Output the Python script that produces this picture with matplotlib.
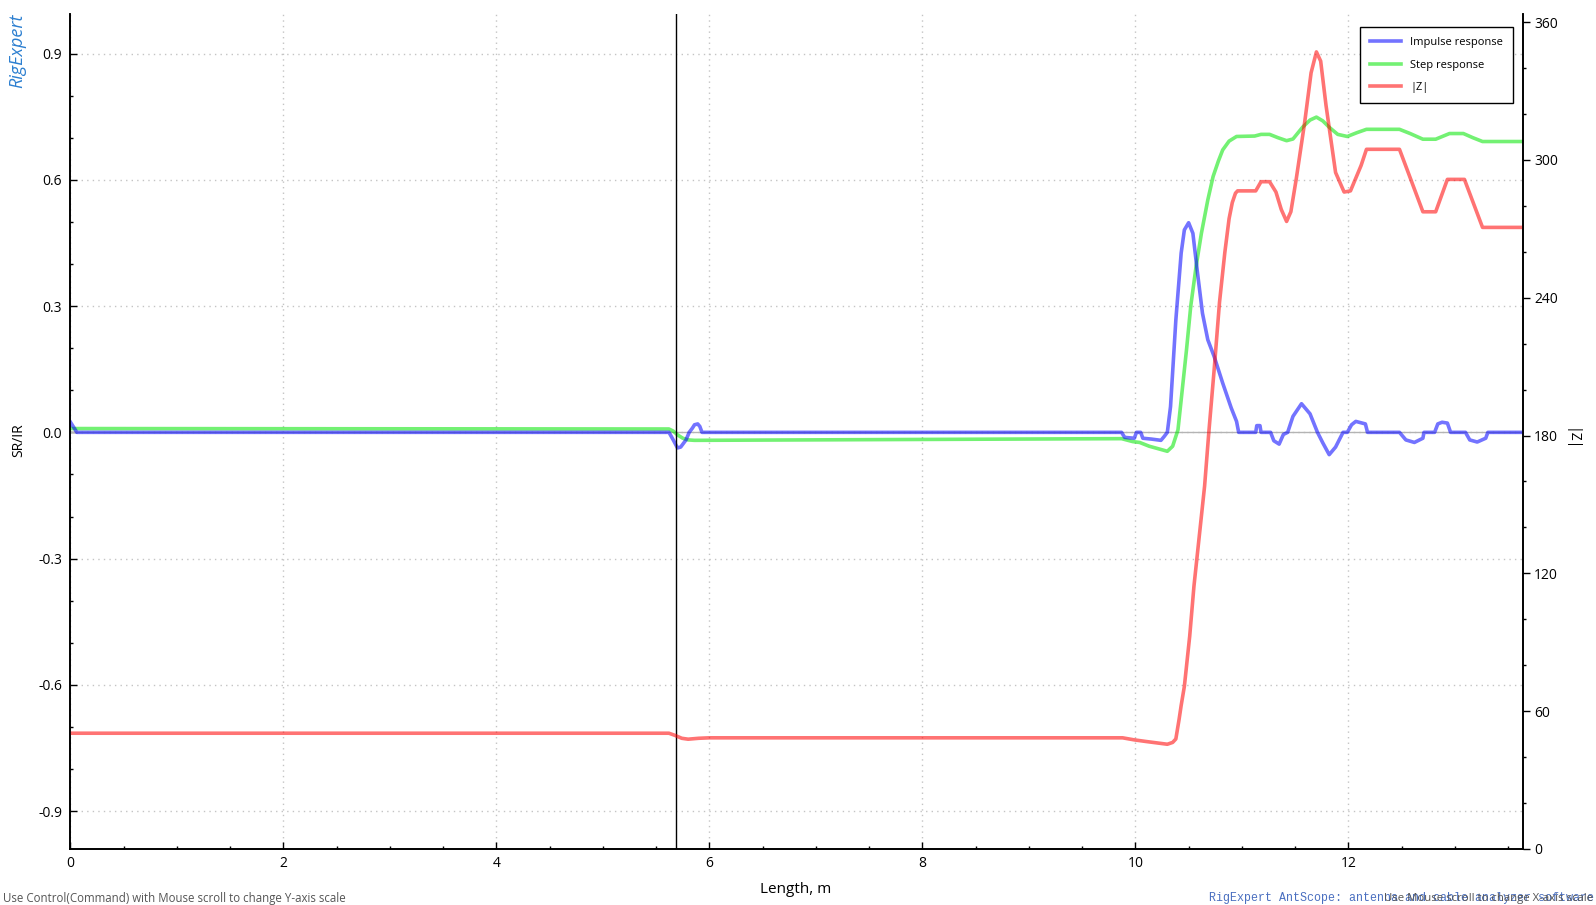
"""
RigExpert AntScope TDR view: impulse / step response and |Z| versus length.
Saves to out.png
"""
import numpy as np
import matplotlib
matplotlib.use('Agg')
import matplotlib.pyplot as plt
from matplotlib.ticker import MultipleLocator
from matplotlib.lines import Line2D

plt.rcParams['font.family'] = ['Open Sans', 'DejaVu Sans']

# impulse response (left axis)
ir_len = [0, 0.03, 0.06, 5.62, 5.66, 5.70, 5.73, 5.78, 5.81, 5.84, 5.86, 5.89, 5.91, 5.93,
          9.87, 9.90, 9.99, 10.01, 10.05, 10.07, 10.15, 10.24, 10.27, 10.30, 10.33, 10.38,
          10.43, 10.46, 10.50, 10.54, 10.58, 10.63, 10.68, 10.74, 10.82, 10.90, 10.95, 10.97,
          11.13, 11.14, 11.17, 11.18, 11.27, 11.30, 11.35, 11.39, 11.43, 11.48, 11.56, 11.64,
          11.71, 11.76, 11.82, 11.88, 11.95, 11.99, 12.03, 12.07, 12.16, 12.18, 12.48, 12.54,
          12.62, 12.70, 12.71, 12.81, 12.84, 12.88, 12.93, 12.96, 13.10, 13.14, 13.21, 13.29,
          13.31, 13.64]
ir_val = [0.024, 0.012, 0, 0, -0.018, -0.037, -0.035, -0.018, 0, 0.01, 0.018, 0.02, 0.014, 0,
          0, -0.012, -0.014, 0, 0, -0.014, -0.016, -0.019, -0.01, 0, 0.061, 0.267,
          0.426, 0.481, 0.498, 0.473, 0.386, 0.283, 0.22, 0.18, 0.117, 0.058, 0.026, 0,
          0, 0.016, 0.016, 0, 0, -0.02, -0.028, -0.005, 0, 0.038, 0.068, 0.044,
          0, -0.025, -0.053, -0.035, 0, 0, 0.018, 0.026, 0.02, 0, 0, -0.018,
          -0.024, -0.014, 0, 0, 0.02, 0.024, 0.022, 0, 0, -0.018, -0.023, -0.014,
          0, 0]

# step response (left axis)
sr_len = [0, 5.62, 5.66, 5.70, 5.75, 5.80, 5.86, 9.87, 9.975, 10.04, 10.13, 10.23, 10.30,
          10.35, 10.40, 10.43, 10.48, 10.52, 10.57, 10.62, 10.68, 10.73, 10.78, 10.82, 10.88,
          10.95, 11.12, 11.18, 11.26, 11.34, 11.42, 11.48, 11.57, 11.64, 11.70, 11.76, 11.82,
          11.90, 11.99, 12.08, 12.17, 12.48, 12.58, 12.70, 12.82, 12.95, 13.08, 13.17, 13.26,
          13.64]
sr_val = [0.009, 0.008, 0.003, -0.006, -0.014, -0.018, -0.019, -0.015, -0.022, -0.024, -0.033,
          -0.04, -0.045, -0.033, 0.006, 0.077, 0.196, 0.30, 0.394, 0.473, 0.552, 0.608, 0.645,
          0.671, 0.692, 0.703, 0.704, 0.708, 0.708, 0.700, 0.693, 0.697, 0.725, 0.742, 0.749,
          0.740, 0.725, 0.708, 0.703, 0.712, 0.720, 0.720, 0.710, 0.6965, 0.6965, 0.710, 0.710,
          0.700, 0.691, 0.691]

# |Z| in ohms (right axis)
z_len = [0, 5.62, 5.68, 5.74, 5.80, 5.90, 6.0, 9.88, 9.99, 10.10, 10.20, 10.30, 10.35, 10.38,
         10.41, 10.43, 10.46, 10.51, 10.55, 10.60, 10.65, 10.69, 10.74, 10.79, 10.84, 10.88,
         10.91, 10.94, 10.96, 11.13, 11.18, 11.26, 11.32, 11.37, 11.42, 11.46, 11.51, 11.59,
         11.65, 11.70, 11.74, 11.79, 11.88, 11.96, 12.02, 12.12, 12.17, 12.48, 12.57, 12.70,
         12.82, 12.93, 13.09, 13.26, 13.64]
z_val = [50.4, 50.4, 49.4, 48.2, 47.8, 48.2, 48.4, 48.4, 47.5, 46.8, 46.2, 45.6, 46.4, 47.9,
         56.3, 62.5, 70.8, 92.6, 114.4, 136.2, 158, 181.6, 208.8, 238, 259.7, 274.4,
         281.4, 285.5, 286.5, 286.5, 290.5, 290.5, 286, 278.4, 273.2, 277.4, 291.5, 316.4,
         337.9, 347, 343, 323.8, 294.5, 286, 286.5, 297.6, 304.6, 304.6, 293.5, 277.4,
         277.4, 291.5, 291.5, 270.6, 270.6]

assert len(ir_len) == len(ir_val) and len(sr_len) == len(sr_val) and len(z_len) == len(z_val)

CURSOR = 5.69
X_MAX = 13.64

BLUE = (0, 0, 1)
GREEN = (0, 0.9, 0)
RED = (1, 0, 0)
ALPHA = 0.55
LW = 2.6

fig = plt.figure(figsize=(15.96, 9.05), dpi=100)
ax = fig.add_axes([0.04417, 0.06188, 0.91009, 0.92265])
ax2 = ax.twinx()

ax.plot(ir_len, ir_val, color=BLUE, alpha=ALPHA, lw=LW, solid_joinstyle='round', zorder=3)
ax.plot(sr_len, sr_val, color=GREEN, alpha=ALPHA, lw=LW, solid_joinstyle='round', zorder=2)
ax2.plot(z_len, z_val, color=RED, alpha=ALPHA, lw=LW, solid_joinstyle='round')

ax.axhline(0, color='#b4b4b4', lw=1, zorder=1)
ax.axvline(CURSOR, color='black', lw=1, zorder=4)

ax.set_xlim(0, X_MAX)
ax.set_ylim(-0.99, 0.994)
ax2.set_ylim(0, 363.5)

ax.xaxis.set_major_locator(MultipleLocator(2))
ax.xaxis.set_minor_locator(MultipleLocator(0.5))
ax.yaxis.set_major_locator(MultipleLocator(0.3))
ax.yaxis.set_minor_locator(MultipleLocator(0.1))
ax2.yaxis.set_major_locator(MultipleLocator(60))
ax2.yaxis.set_minor_locator(MultipleLocator(20))

ax.yaxis.set_major_formatter(plt.FuncFormatter(lambda v, p: f'{v:.1f}'.replace('-0.0', '0.0')))

ax.grid(True, which='major', color='#c4c4c4', linestyle=(0, (1, 3)), lw=1)
ax.set_axisbelow(True)

for a in (ax, ax2):
    a.spines['top'].set_visible(False)
    for s in a.spines.values():
        s.set_linewidth(1.2)
        s.set_color('black')

ax.tick_params(axis='both', which='major', direction='in', length=5, width=1, labelsize=10, pad=6)
ax.tick_params(axis='both', which='minor', direction='in', length=2.5, width=1)
ax.tick_params(axis='x', which='major', pad=5)
ax2.tick_params(axis='y', which='major', direction='out', length=5, width=1, labelsize=10, pad=3)
ax2.tick_params(axis='y', which='minor', direction='out', length=2.5, width=1)

ax.set_xlabel('Length, m', fontsize=11)
ax.xaxis.set_label_coords(0.4995, -0.040)
ax.set_ylabel('SR/IR', fontsize=10)
ax.yaxis.set_label_coords(-0.0305, 0.49)
ax2.set_ylabel('|Z|', fontsize=10, rotation=-90, va='center')
ax2.yaxis.set_label_coords(1.033, 0.49)

handles = [Line2D([], [], color=c, alpha=ALPHA, lw=LW) for c in (BLUE, GREEN, RED)]
leg = ax2.legend(handles, ['Impulse response', 'Step response', '|Z|'],
                 loc='upper right', bbox_to_anchor=(0.993, 0.984), fontsize=8,
                 fancybox=False, edgecolor='black', framealpha=1, handlelength=2.8,
                 borderpad=0.9, labelspacing=1.03, handletextpad=0.8, borderaxespad=0)
leg.get_frame().set_linewidth(1)
leg.set_zorder(10)

# logo and status texts
fig.text(0.0107, 0.944, 'RigExpert', rotation=90, ha='center', va='center',
         color='#2c7fd0', fontsize=13, style='italic')
fig.text(0.002, 0.0077, 'Use Control(Command) with Mouse scroll to change Y-axis scale',
         ha='left', va='center', fontsize=8.3, color='#555555')
fig.text(1209 / 1596, 0.0077, 'RigExpert AntScope: antenna and cable analyzer software',
         ha='left', va='center', fontsize=8.4, color='#4a6fc0', family='Liberation Mono')
fig.text(0.998, 0.0077, 'Use Mouse scroll to change X-axis scale',
         ha='right', va='center', fontsize=8.2, color='#555555')

fig.savefig('out.png', dpi=100)
